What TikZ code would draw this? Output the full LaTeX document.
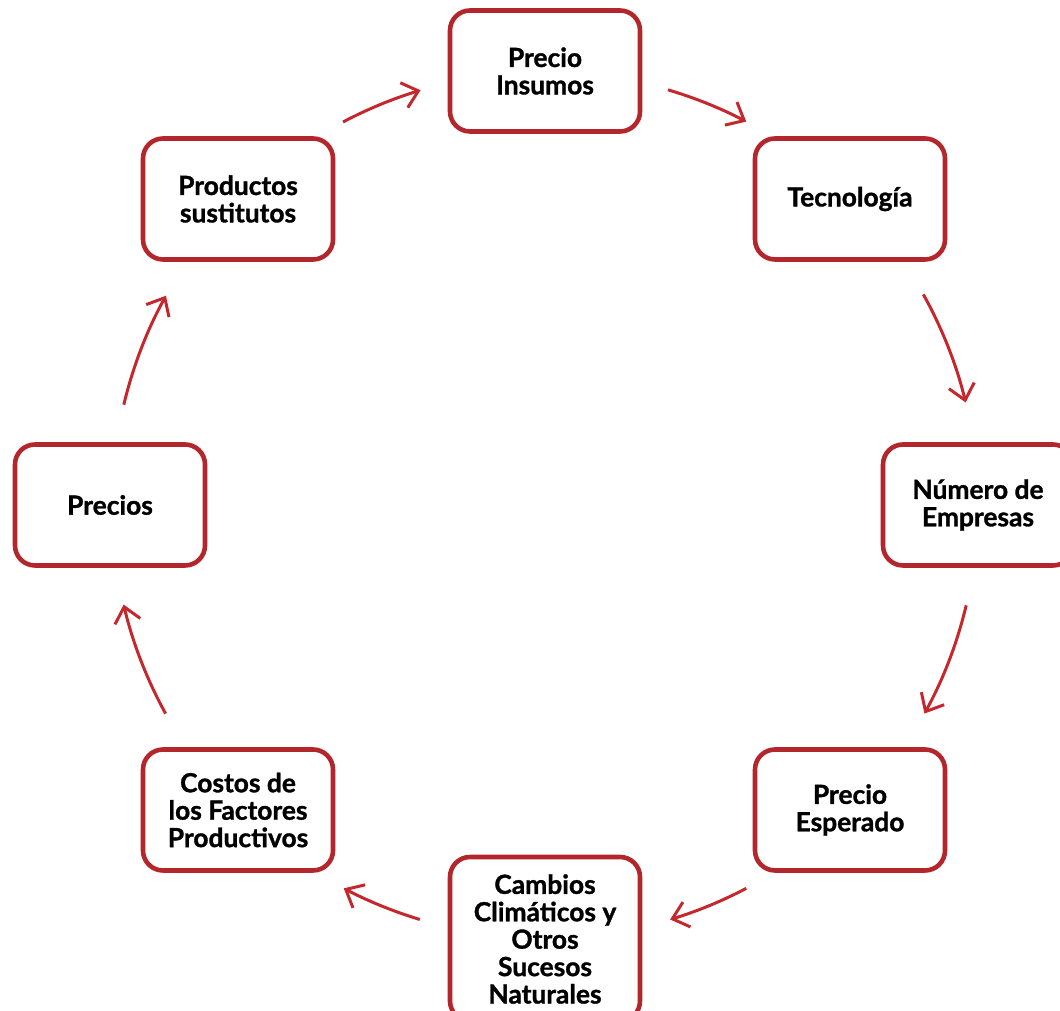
\documentclass[tikz,border=0pt]{standalone}
\usepackage{fontspec}
\setmainfont{Lato}[BoldFeatures={FakeBold=1.2}]
\usetikzlibrary{arrows.meta,calc}
\definecolor{boxred}{RGB}{178,38,44}
\definecolor{arrowred}{RGB}{196,40,45}

\begin{document}
\begin{tikzpicture}[
    factor/.style={draw=boxred, line width=1.3pt, rounded corners=0.2cm,
        minimum width=1.9cm, minimum height=1.21cm, align=center,
        font=\bfseries\fontsize{7.5}{7.8}\selectfont},
    flow/.style={draw=arrowred, line width=0.85pt,
        -{Straight Barb[length=1.5mm,width=2.6mm]}}
]
    \useasboundingbox (0,0) rectangle (10.60,10.11);
    % Centre of the ring
    \coordinate (hub) at (5.45,5.06);

    % Boxes, clockwise from the top
    \node[factor] (insumos) at (5.45,9.40) {Precio\\Insumos};
    \node[factor] (tecno) at (8.50,8.12) {Tecnología};
    \node[factor] (empresas) at (9.78,5.06) {Número de\\Empresas};
    \node[factor] (esperado) at (8.50,2.01) {Precio\\Esperado};
    \node[factor, minimum height=1.64cm] (cambios) at (5.45,0.72)
        {Cambios\\Climáticos y\\Otros\\Sucesos\\Naturales};
    \node[factor] (costos) at (2.38,2.01) {Costos de\\los Factores\\Productivos};
    \node[factor] (precios) at (1.10,5.06) {Precios};
    \node[factor] (sustitutos) at (2.38,8.12) {Productos\\sustitutos};

    % Arrows along the ring, between neighbouring boxes
    % insumos -> tecno
    \draw[flow] ($(hub)+(73.5:4.33)$) arc[start angle=73.5, end angle=62.3, radius=4.33];
    % tecno -> empresas
    \draw[flow] ($(hub)+(29.1:4.33)$) arc[start angle=29.1, end angle=13.7, radius=4.33];
    % empresas -> esperado
    \draw[flow] ($(hub)+(-13.4:4.33)$) arc[start angle=-13.4, end angle=-28.8, radius=4.33];
    % esperado -> cambios
    \draw[flow] ($(hub)+(-62.3:4.33)$) arc[start angle=-62.3, end angle=-73.2, radius=4.33];
    % cambios -> costos
    \draw[flow] ($(hub)+(-106.8:4.33)$) arc[start angle=-106.8, end angle=-117.7, radius=4.33];
    % costos -> precios
    \draw[flow] ($(hub)+(-151.2:4.33)$) arc[start angle=-151.2, end angle=-166.7, radius=4.33];
    % precios -> sustitutos
    \draw[flow] ($(hub)+(166.6:4.33)$) arc[start angle=166.6, end angle=151.1, radius=4.33];
    % sustitutos -> insumos
    \draw[flow] ($(hub)+(117.8:4.33)$) arc[start angle=117.8, end angle=106.7, radius=4.33];
\end{tikzpicture}
\end{document}
